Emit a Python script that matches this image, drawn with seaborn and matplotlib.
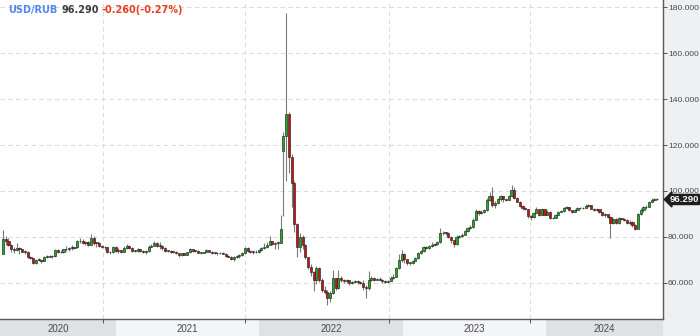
import numpy as np
import pandas as pd
import matplotlib
matplotlib.use("Agg")
import matplotlib.pyplot as plt
import matplotlib.dates as mdates
import matplotlib.transforms as mtransforms
import seaborn as sns

# ---------------- data (weekly USD/RUB candles) ----------------
first_week = "2020-03-16"
first_open = 72.6

close_2020 = [79.0, 78.0, 76.6, 74.6, 74.4, 75.0, 74.6, 73.5, 73.6, 71.1, 70.6, 68.6, 70.1, 69.9,
              69.6, 71.3, 71.3, 71.5, 71.6, 74.1, 73.6, 73.2, 74.7, 74.5, 75.2, 75.1, 75.4, 78.0,
              78.0, 77.4, 77.9, 76.3, 79.3, 77.3, 77.4, 75.9, 75.6, 75.4, 73.4, 73.2, 75.7, 73.9]
high_2020 = [82.9, 80.2, 79.6, 76.8, 75.4, 77.5, 75.5, 74.8, 74.3, 73.8, 71.8, 70.9, 70.5, 70.7,
             70.1, 71.6, 71.9, 72.0, 71.9, 74.6, 74.5, 74.1, 74.9, 75.8, 75.5, 76.3, 75.7, 78.6,
             79.7, 79.0, 78.4, 78.1, 81.2, 80.2, 77.9, 77.6, 76.6, 76.2, 75.6, 74.0, 76.2, 76.0]
low_2020 = [72.5, 76.5, 76.0, 73.6, 72.8, 74.0, 72.6, 73.2, 72.7, 70.9, 70.2, 68.2, 68.0, 69.3,
            68.7, 69.4, 70.6, 71.0, 70.8, 71.4, 72.8, 72.8, 73.1, 74.0, 73.8, 74.3, 74.5, 75.3,
            77.2, 77.0, 76.5, 75.8, 76.3, 76.3, 75.7, 75.6, 75.2, 74.4, 73.0, 72.6, 73.1, 73.5]

close_2021 = [74.2, 73.6, 75.3, 75.9, 75.3, 73.8, 73.9, 74.6, 74.0, 73.3, 73.8, 75.7, 75.9, 77.4,
              75.9, 76.0, 75.3, 73.9, 74.0, 73.5, 73.3, 72.9, 71.9, 72.8, 72.3, 73.2, 74.5, 73.7,
              74.0, 73.0, 73.0, 73.3, 74.2, 73.6, 72.9, 73.0, 72.8, 72.9, 72.7, 71.5, 71.3, 70.2,
              71.0, 71.5, 72.0, 73.0, 75.0, 73.7, 73.5, 73.4, 73.2, 74.3]
high_2021 = [75.0, 74.4, 75.8, 77.0, 76.3, 75.4, 74.4, 75.3, 74.9, 74.2, 74.1, 76.5, 76.9, 78.0,
             77.9, 77.6, 76.3, 75.5, 74.4, 74.3, 73.7, 73.8, 73.1, 73.0, 73.0, 73.6, 75.0, 74.7,
             74.3, 74.2, 73.5, 73.6, 74.5, 74.3, 73.7, 73.2, 73.2, 73.3, 73.3, 72.9, 72.0, 71.6,
             71.5, 71.9, 72.6, 73.3, 75.6, 75.4, 74.1, 73.9, 74.2, 74.7]
low_2021 = [72.9, 73.0, 73.4, 74.9, 74.8, 73.6, 73.3, 73.5, 73.3, 72.9, 72.6, 73.6, 75.5, 75.9,
            75.6, 74.9, 74.3, 73.5, 73.5, 73.0, 72.9, 72.6, 71.2, 71.7, 71.9, 71.9, 72.9, 73.5,
            73.5, 72.8, 72.5, 72.8, 73.2, 73.4, 72.7, 72.4, 72.3, 72.5, 72.4, 71.4, 71.0, 70.0,
            69.6, 70.9, 70.7, 71.8, 72.9, 73.3, 73.1, 72.7, 72.9, 73.1]

close_2022 = [75.0, 75.5, 76.6, 78.2, 76.8, 77.5, 77.4, 83.5, 124.0, 133.4, 114.6, 103.5, 85.5,
              75.7, 80.0, 76.5, 71.0, 67.0, 64.5, 61.2, 66.5, 61.2, 57.0, 56.0, 53.3, 55.5, 61.9,
              57.7, 62.2, 61.0, 60.8, 61.0, 59.8, 60.3, 60.6, 60.2, 60.0, 58.0, 57.8, 61.3, 62.0,
              61.3, 61.6, 61.4, 60.6, 60.4, 60.8, 62.0, 62.6, 66.5, 70.0, 72.5]
high_2022 = [75.6, 77.2, 77.9, 80.4, 78.4, 77.9, 78.2, 89.5, 125.5, 177.6, 134.5, 116.0, 104.5,
             86.0, 81.5, 80.8, 77.0, 71.3, 68.0, 65.0, 67.5, 66.8, 62.0, 58.5, 57.0, 56.5, 65.5,
             62.0, 65.5, 62.8, 61.5, 61.6, 61.2, 60.8, 61.0, 61.2, 60.8, 61.2, 59.0, 65.0, 62.8,
             62.3, 62.0, 62.4, 61.6, 61.0, 61.2, 62.8, 63.6, 67.0, 72.5, 74.3]
low_2022 = [73.8, 74.6, 75.3, 76.7, 76.3, 74.6, 74.8, 77.2, 89.0, 104.5, 108.0, 92.8, 82.0,
            71.3, 73.5, 74.5, 70.2, 65.8, 63.0, 56.5, 59.5, 60.5, 56.0, 55.0, 50.3, 51.5, 55.0,
            56.8, 57.2, 60.2, 59.8, 60.0, 59.2, 59.4, 59.8, 59.6, 59.3, 56.8, 53.3, 57.0, 60.8,
            60.8, 61.0, 61.0, 60.0, 60.0, 60.1, 60.6, 61.6, 62.5, 66.0, 69.0]

close_2023 = [70.2, 68.5, 68.6, 69.6, 70.6, 73.0, 73.8, 75.5, 75.2, 75.9, 76.3, 76.8, 77.7,
              81.5, 81.8, 81.6, 80.0, 78.5, 76.8, 80.0, 80.3, 81.0, 82.5, 83.7, 84.3, 87.3, 91.2,
              90.3, 90.8, 91.5, 96.0, 98.0, 93.9, 94.8, 96.3, 97.9, 96.3, 96.1, 97.6, 100.3, 97.0,
              95.3, 93.5, 92.5, 92.3, 89.0, 88.5, 90.5, 92.0, 89.5, 92.0, 89.7]
high_2023 = [72.8, 70.3, 69.2, 70.0, 71.0, 73.6, 74.3, 76.0, 76.0, 76.3, 77.9, 77.5, 78.2,
             83.7, 82.7, 82.2, 81.9, 80.2, 78.6, 80.6, 80.8, 81.5, 82.8, 84.3, 85.0, 88.0, 92.0,
             91.5, 91.5, 92.3, 96.8, 99.5, 101.8, 95.5, 96.8, 98.2, 98.0, 96.7, 98.2, 102.6,
             101.5, 97.5, 95.5, 93.8, 92.8, 92.3, 89.3, 90.8, 92.8, 92.0, 92.5, 92.2]
low_2023 = [68.5, 67.6, 67.8, 68.2, 69.4, 70.4, 72.6, 73.6, 74.7, 74.9, 75.5, 76.0, 76.5,
            77.5, 80.8, 80.9, 79.6, 77.5, 75.5, 76.6, 79.6, 80.0, 80.9, 82.3, 83.5, 84.0, 87.2,
            89.5, 89.8, 90.2, 91.3, 95.5, 93.0, 92.5, 94.5, 95.8, 95.3, 95.5, 95.9, 97.5, 96.5,
            95.0, 93.0, 91.8, 91.5, 88.2, 87.5, 88.4, 90.3, 89.2, 89.3, 89.5]

close_2024 = [91.0, 88.0, 88.2, 89.5, 91.0, 91.2, 92.5, 93.0, 91.5, 90.9, 91.8, 92.5, 92.4,
              92.6, 93.5, 93.8, 92.2, 91.6, 92.0, 90.8, 89.5, 89.9, 88.8, 86.2, 87.6, 86.0, 88.0,
              87.8, 87.5, 86.2, 86.5, 85.3, 83.5, 90.0, 91.5, 92.8, 93.0, 95.3, 96.0, 96.5, 96.29]
high_2024 = [91.5, 91.2, 88.8, 89.9, 91.3, 91.6, 92.9, 93.3, 93.2, 91.8, 92.0, 92.9, 92.9,
             93.1, 94.5, 94.2, 93.8, 92.5, 92.4, 92.0, 90.9, 90.4, 90.0, 89.0, 88.3, 88.0, 88.5,
             88.3, 88.0, 87.8, 87.5, 86.8, 85.8, 90.5, 92.5, 93.5, 93.8, 95.8, 96.8, 97.0, 96.8]
low_2024 = [89.5, 87.8, 87.6, 88.0, 89.4, 90.8, 91.0, 92.2, 91.2, 90.5, 90.8, 91.6, 92.1,
            92.0, 92.5, 93.2, 92.0, 91.2, 91.3, 90.4, 89.2, 88.7, 88.3, 79.3, 85.5, 85.5, 85.8,
            87.2, 87.0, 85.5, 85.3, 84.5, 82.9, 83.3, 89.5, 90.8, 92.0, 92.8, 95.2, 95.6, 95.9]

# weeks that opened with a gap (open differs from previous close)
open_gaps = {"2022-02-28": 117.6}

years = [2020, 2021, 2022, 2023, 2024]
y_ticks = [60, 80, 100, 120, 140, 160, 180]
grid_dates = ["2020-11-28", "2021-11-25", "2022-11-26", "2023-11-20"]
symbol, last_price, change_text = "USD/RUB", "96.290", "-0.260(-0.27%)"

# ---------------- build table ----------------
close = close_2020 + close_2021 + close_2022 + close_2023 + close_2024
high = high_2020 + high_2021 + high_2022 + high_2023 + high_2024
low = low_2020 + low_2021 + low_2022 + low_2023 + low_2024
weeks = pd.date_range(first_week, periods=len(close), freq="W-MON")
df = pd.DataFrame({"week": weeks, "close": close, "high": high, "low": low})
df["open"] = [first_open] + close[:-1]
for d, v in open_gaps.items():
    df.loc[df["week"] == pd.Timestamp(d), "open"] = v
df["x"] = mdates.date2num(df["week"] + pd.Timedelta(days=3))
df["up"] = df["close"] >= df["open"]

# ---------------- style ----------------
sns.set_theme(style="white")
plt.rcParams["font.family"] = ["DejaVu Sans"]
LAB_FONT = ["Liberation Sans", "DejaVu Sans"]

W, H = 700, 336
fig = plt.figure(figsize=(W / 100, H / 100), dpi=100, facecolor="#eff0f2")
axw = 662.5 / W
ax = fig.add_axes([0, 17 / H, axw, 319 / H])
ax.set_facecolor("white")
ax.set_zorder(2)

xmin = mdates.date2num(pd.Timestamp("2020-03-11 10:00"))
xmax = xmin + 662.5 / 0.3927
ax.set_xlim(xmin, xmax)
ax.set_ylim(44.2, 183.2)

# wicks
ax.vlines(df["x"], df["low"], df["high"], color="#7a7a7a", linewidth=0.8, zorder=2)
# bodies
body_w = 5.4
for up, col in [(True, "#1cb01c"), (False, "#cc1010")]:
    s = df[df["up"] == up]
    hgt = (s["close"] - s["open"]).abs().clip(lower=0.35)
    bottom = np.minimum(s["open"], s["close"])
    ax.bar(s["x"], hgt, bottom=bottom, width=body_w, color=col,
           edgecolor="#222222", linewidth=0.45, zorder=3)

# grid
ax.set_xticks(mdates.date2num(pd.to_datetime(grid_dates)))
ax.grid(True, color="#dcdcdc", linestyle=(0, (4, 3)), linewidth=0.8)
ax.set_axisbelow(True)

# spines / ticks
for s in ["left", "top"]:
    ax.spines[s].set_visible(False)
for s in ["right", "bottom"]:
    ax.spines[s].set_visible(True)
    ax.spines[s].set_color("#5a5a5a")
    ax.spines[s].set_linewidth(1.0)
ax.yaxis.tick_right()
ax.set_yticks(y_ticks)
ax.set_yticklabels([f"{v:.3f}" for v in y_ticks], fontfamily=LAB_FONT)
ax.tick_params(axis="y", which="both", right=True, left=False, labelright=True,
               labelleft=False, length=3, width=0.7, color="#555555",
               labelcolor="#4a4a4a", pad=1.0)
ax.tick_params(axis="x", bottom=True, labelbottom=False, length=3, width=0.7,
               color="#555555", direction="out")
ax.set_xlabel("")
ax.set_ylabel("")

# year band
band = fig.add_axes([0, 0, axw, 16 / H])
band.set_zorder(1)
band.set_xlim(xmin, xmax)
band.set_ylim(0, 1)
band.axis("off")
for k, yr in enumerate(years):
    x0 = max(mdates.date2num(pd.Timestamp(f"{yr}-01-01")), xmin)
    x1 = min(mdates.date2num(pd.Timestamp(f"{yr + 1}-01-01")), xmax)
    band.axvspan(x0, x1, color="#e0e1e3" if k % 2 == 0 else "#f4f5f7", lw=0)
    band.text((x0 + x1) / 2, 0.45, str(yr), ha="center", va="center",
              fontsize=7.0, color="#4a4a4a", fontfamily=LAB_FONT)

# price tag
trans = mtransforms.blended_transform_factory(ax.transAxes, ax.transData)
tag = ax.text(1.0 + 7 / 662.5, float(close[-1]), last_price, transform=trans,
              ha="left", va="center", color="white", fontweight="bold",
              fontfamily=LAB_FONT,
              bbox=dict(boxstyle="larrow,pad=0.06", fc="#1e1e1e", ec="#1e1e1e"),
              clip_on=False, zorder=5)

# header
ty = 1 - 10 / H
fig.text(8 / W, ty, symbol, fontsize=7, fontweight="bold", color="#5285ee",
         va="center", ha="left", zorder=10)
fig.text(61 / W, ty, last_price, fontsize=7, fontweight="bold", color="#3d3d3d",
         va="center", ha="left", zorder=10)
fig.text(101 / W, ty, change_text, fontsize=7, fontweight="bold", color="#e2401f",
         va="center", ha="left", zorder=10)

# shrink right-side texts until they fit inside the figure
renderer = fig.canvas.get_renderer()
size = 7.5
while size > 4.5:
    ax.tick_params(axis="y", labelsize=size)
    fig.canvas.draw()
    right = max(t.get_window_extent(renderer).x1 for t in ax.get_yticklabels())
    if right <= W - 0.5:
        break
    size -= 0.1
tsize = 7.5
while tsize > 4.5:
    tag.set_fontsize(tsize)
    fig.canvas.draw()
    if tag.get_bbox_patch().get_window_extent(renderer).x1 <= W - 0.5:
        break
    tsize -= 0.1

fig.savefig("out.png", dpi=100, facecolor=fig.get_facecolor())
